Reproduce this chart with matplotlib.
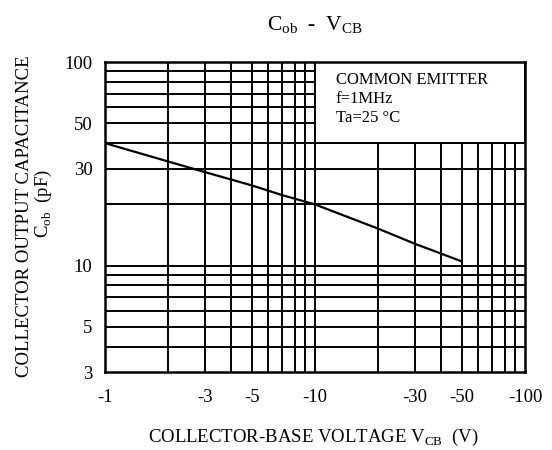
import numpy as np
import matplotlib
matplotlib.use("Agg")
import matplotlib.pyplot as plt
from matplotlib.patches import Rectangle
from matplotlib.ticker import FixedLocator, NullFormatter

plt.rcParams['font.family'] = ['Liberation Serif', 'DejaVu Serif']
plt.rcParams['mathtext.fontset'] = 'custom'
plt.rcParams['mathtext.rm'] = 'Liberation Serif'

# (|V_CB| in volts, C_ob in pF)
vcb = [1, 2, 3, 5, 7, 10, 20, 30, 50]
cob = [40, 32.5, 28.8, 24.8, 22.2, 20, 15.2, 12.8, 10.5]

x_ticks = [1, 3, 5, 10, 30, 50, 100]
x_labels = ["-1", "-3", "-5", "-10", "-30", "-50", "-100"]
y_ticks = [3, 5, 10, 30, 50, 100]
y_labels = ["3", "5", "10", "30", "50", "100"]

x_grid = [2, 3, 4, 5, 6, 7, 8, 9, 10, 20, 30, 40, 50, 60, 70, 80, 90]
y_grid = [4, 5, 6, 7, 8, 9, 10, 20, 30, 40, 50, 60, 70, 80, 90]

notes = ["COMMON EMITTER", "f=1MHz", "Ta=25 \u00b0C"]

fig = plt.figure(figsize=(5.52, 4.5), dpi=100)
ax = fig.add_axes([0.190, 0.173, 0.761, 0.689])
ax.set_xscale("log")
ax.set_yscale("log")
ax.set_xlim(1, 100)
ax.set_ylim(3, 100)

for g in x_grid:
    ax.axvline(g, color="black", lw=1.4, zorder=1)
for g in y_grid:
    ax.axhline(g, color="black", lw=1.4, zorder=1)

ax.plot(vcb, cob, color="black", lw=1.6, zorder=3)

# condition box in the upper right
ax.add_patch(Rectangle((10, 40), 90, 60, facecolor="white",
                       edgecolor="black", lw=1.4, zorder=2))
for i, t in enumerate(notes):
    ax.text(0.55, 0.968 - i * 0.062, t, transform=ax.transAxes,
            fontsize=12, va="top", ha="left", zorder=4)

ax.xaxis.set_major_locator(FixedLocator(x_ticks))
ax.xaxis.set_minor_formatter(NullFormatter())
ax.set_xticklabels(x_labels)
ax.yaxis.set_major_locator(FixedLocator(y_ticks))
ax.yaxis.set_minor_formatter(NullFormatter())
ax.set_yticklabels(y_labels)
ax.tick_params(which="both", length=0, labelsize=13.5)
ax.tick_params(axis="x", pad=12)
ax.tick_params(axis="y", pad=9)

for s in ax.spines.values():
    s.set_linewidth(1.8)

fig.text(0.571, 0.944, r"C$_{\rm ob}$  -  V$_{\rm CB}$", ha="center",
         va="center", fontsize=15.5)
fig.text(0.045, 0.52, "COLLECTOR OUTPUT CAPACITANCE", rotation=90,
         ha="center", va="center", fontsize=13.5)
fig.text(0.078, 0.547, r"C$_{\rm ob}$  (pF)", rotation=90,
         ha="center", va="center", fontsize=13.5)
fig.text(0.567, 0.027, r"COLLECTOR-BASE VOLTAGE V$_{\rm CB}$  (V)",
         ha="center", va="center", fontsize=13.5)

fig.savefig("out.png", dpi=100)
